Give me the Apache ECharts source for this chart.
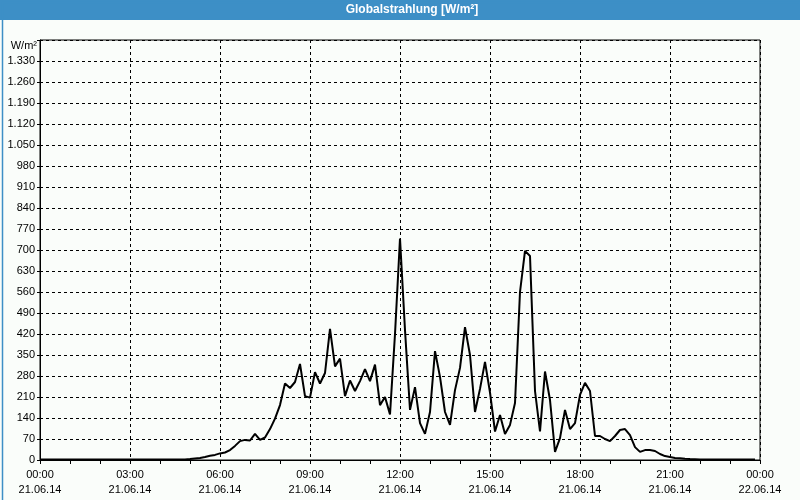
<!DOCTYPE html>
<html>
<head>
<meta charset="utf-8">
<script src="https://cdn.jsdelivr.net/npm/echarts@6/dist/echarts.min.js"></script>
<style>html,body{margin:0;padding:0;background:#fff}#c{width:800px;height:500px}</style>
</head>
<body>
<div id="c"></div>
<script>
const titleText = 'Globalstrahlung [W/m²]';
const unitText = 'W/m²';
const xTickLabels = ['00:00\n21.06.14','03:00\n21.06.14','06:00\n21.06.14','09:00\n21.06.14','12:00\n21.06.14','15:00\n21.06.14','18:00\n21.06.14','21:00\n21.06.14','00:00\n22.06.14'];
const times = ['00:00','04:50','05:00','05:10','05:20','05:30','05:40','05:50','06:00','06:10','06:20','06:30','06:40','06:50','07:00','07:10','07:20','07:30','07:40','07:50','08:00','08:10','08:20','08:30','08:40','08:50','09:00','09:10','09:20','09:30','09:40','09:50','10:00','10:10','10:20','10:30','10:40','10:50','11:00','11:10','11:20','11:30','11:40','11:50','12:00','12:10','12:20','12:30','12:40','12:50','13:00','13:10','13:20','13:30','13:40','13:50','14:00','14:10','14:20','14:30','14:40','14:50','15:00','15:10','15:20','15:30','15:40','15:50','16:00','16:10','16:20','16:30','16:40','16:50','17:00','17:10','17:20','17:30','17:40','17:50','18:00','18:10','18:20','18:30','18:40','18:50','19:00','19:10','19:20','19:30','19:40','19:50','20:00','20:10','20:20','20:30','20:40','20:50','21:00','21:10','21:20','21:30','21:40','22:00','23:50'];
const values = [2,2,3,5,7,10,14,17,22,25,33,47,63,67,65,87,67,75,103,138,183,255,240,260,320,213,208,293,255,290,437,312,338,213,265,230,263,303,263,318,183,210,152,420,738,433,167,243,123,87,160,363,277,160,117,233,307,443,350,160,237,327,225,95,150,87,117,190,560,697,680,230,95,295,200,27,73,167,103,123,217,257,230,80,80,70,63,80,100,103,83,43,27,33,33,30,20,13,10,7,6,4,3,2,2];

function toHours(t){const p=t.split(':');return +p[0]+(+p[1])/60;}
const seriesData = times.map((t,i)=>[toHours(t), values[i]]);

const chart = echarts.init(document.getElementById('c'));
const FONT = 'Liberation Sans';
chart.setOption({
  backgroundColor: '#fafdfa',
  animation: false,
  graphic: [
    {type:'rect', left:0, top:0, shape:{width:800,height:20}, style:{fill:'#3d8fc6'}, z:0},
    {type:'rect', left:0, top:0, shape:{x:0.5,y:0.5,width:799,height:499}, style:{fill:'none', stroke:'#3d8fc6', lineWidth:1.5}, z:0},
    {type:'text', x:412, y:10, style:{text:titleText, fill:'#fff', fontFamily:FONT, fontWeight:'bold', fontSize:12, align:'center', verticalAlign:'middle'}, z:10},
    {type:'text', x:37, y:46, style:{text:unitText, fill:'#000', fontFamily:FONT, fontSize:11, align:'right', verticalAlign:'middle'}, z:10}
  ],
  grid: {left:40, right:40, top:40, bottom:40, show:true, borderColor:'#000', borderWidth:1, backgroundColor:'#fafdfa'},
  xAxis: {
    type:'value', min:0, max:24, interval:3,
    axisLine:{show:true, lineStyle:{color:'#000', width:1}},
    axisTick:{show:true, length:4, lineStyle:{color:'#000'}},
    minorTick:{show:true, splitNumber:3, length:4, lineStyle:{color:'#000'}},
    splitLine:{show:true, lineStyle:{color:'#000', type:[3,3], width:1}},
    axisLabel:{color:'#000', fontFamily:FONT, fontSize:11, lineHeight:15, margin:7,
      formatter:function(v){return xTickLabels[Math.round(v/3)] || '';}}
  },
  yAxis: {
    type:'value', min:0, max:1400, interval:70,
    axisLine:{show:true, lineStyle:{color:'#000', width:1}},
    axisTick:{show:true, length:3, lineStyle:{color:'#000'}},
    splitLine:{show:true, lineStyle:{color:'#000', type:[3,3], width:1}},
    axisLabel:{color:'#000', fontFamily:FONT, fontSize:11, margin:5,
      formatter:function(v){ if(v>=1400) return ''; return v.toLocaleString('de-DE'); }}
  },
  series: [{
    type:'line', data:seriesData, showSymbol:false, symbol:'none',
    lineStyle:{color:'#000', width:2}, z:5
  }]
});
</script>
</body>
</html>
